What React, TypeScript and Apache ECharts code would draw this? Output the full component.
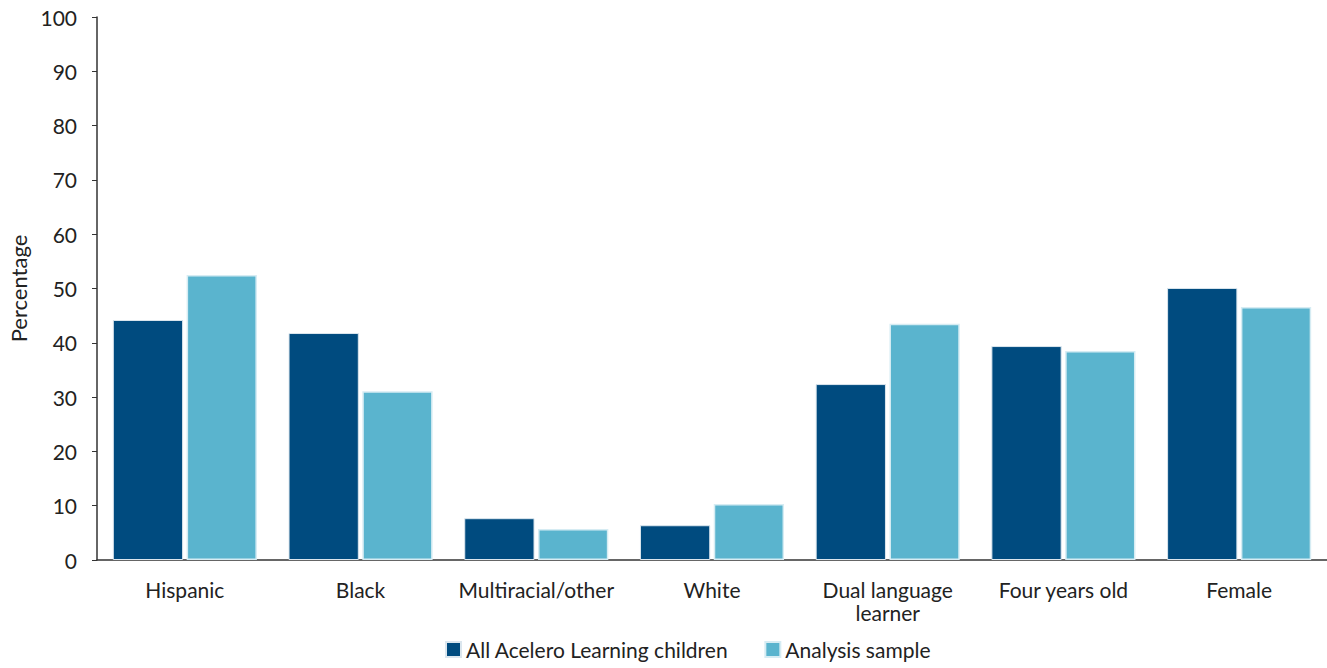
import React, { useEffect, useRef } from "react";
import * as echarts from "echarts";

const categories = ["Hispanic", "Black", "Multiracial/other", "White", "Dual language\nlearner", "Four years old", "Female"];
const allAcelero = [44.2, 41.8, 7.7, 6.4, 32.4, 39.4, 50.1];
const analysisSample = [52.5, 31.1, 5.7, 10.3, 43.5, 38.5, 46.6];
const seriesNames = ["All Acelero Learning children", "Analysis sample"];

const FONT = "Lato, 'Open Sans', sans-serif";

export default function App() {
  const ref = useRef<HTMLDivElement>(null);
  useEffect(() => {
    if (!ref.current) return;
    const chart = echarts.init(ref.current, undefined, { renderer: "svg" });
    chart.setOption({
      animation: false,
      textStyle: { fontFamily: FONT },
      grid: { left: 97, top: 17, right: 0, bottom: 108, containLabel: false, outerBoundsMode: "none" },
      legend: {
        bottom: 3,
        left: 440,
        itemWidth: 15,
        itemHeight: 15,
        itemGap: 36,
        icon: "rect",
        textStyle: { fontFamily: FONT, fontSize: 21, color: "#222" },
        data: seriesNames,
      },
      xAxis: {
        type: "category",
        data: categories,
        axisLine: { lineStyle: { color: "#333", width: 1.5 } },
        axisTick: { show: false },
        axisLabel: { fontFamily: FONT, fontSize: 21, color: "#222", margin: 18, lineHeight: 23, interval: 0, hideOverlap: false },
      },
      yAxis: {
        type: "value",
        min: 0,
        max: 100,
        interval: 10,
        name: "Percentage",
        nameLocation: "middle",
        nameGap: 67,
        nameTextStyle: { fontFamily: FONT, fontSize: 22, color: "#222" },
        axisLine: { show: true, lineStyle: { color: "#333", width: 1.5 } },
        axisTick: { show: true, length: 5, lineStyle: { color: "#333" } },
        splitLine: { show: false },
        axisLabel: { fontFamily: FONT, fontSize: 21, color: "#222", margin: 20 },
      },
      series: [
        {
          name: seriesNames[0],
          type: "bar",
          data: allAcelero,
          barWidth: "40%",
          barGap: "5%",
          itemStyle: { color: "#004B7F", borderColor: "#dbe6ee", borderWidth: 1 },
        },
        {
          name: seriesNames[1],
          type: "bar",
          data: analysisSample,
          barWidth: "40%",
          itemStyle: { color: "#5AB4CE", borderColor: "#d6ecf3", borderWidth: 1.5 },
        },
      ],
    });
    return () => chart.dispose();
  }, []);
  return (
    <div
      ref={ref}
      style={{ position: "absolute", left: 0, top: 0, width: 1327, height: 668, background: "#fff" }}
    />
  );
}
